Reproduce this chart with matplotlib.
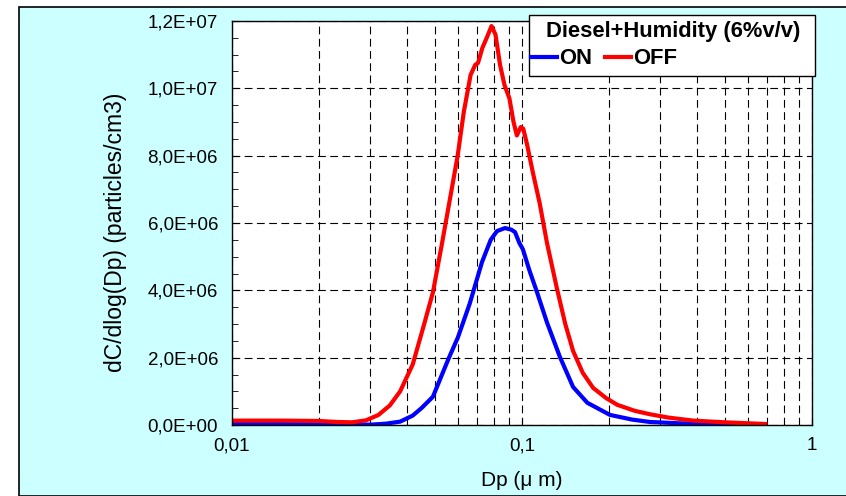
import matplotlib.pyplot as plt
from matplotlib.patches import Rectangle
from matplotlib.ticker import FixedLocator, FuncFormatter, MultipleLocator, LogLocator
import numpy as np

plt.rcParams['font.family'] = ['Liberation Sans', 'DejaVu Sans']

# OFF (red) size distribution, values in 1e6 particles/cm3
dp_off = [0.0100, 0.0150, 0.0200, 0.0230, 0.0260, 0.0290, 0.0320, 0.0350, 0.0380,
          0.0420, 0.0460, 0.0493, 0.0530, 0.0564, 0.0600, 0.0630, 0.0665, 0.0690,
          0.0705, 0.0730, 0.0760, 0.0785, 0.0810, 0.0840, 0.0870, 0.0905, 0.0935,
          0.0960, 0.0990, 0.1010, 0.1040, 0.1090, 0.1150, 0.1220, 0.1320, 0.1410,
          0.1500, 0.1620, 0.1760, 0.1950, 0.2130, 0.2450, 0.2760, 0.3200, 0.3900,
          0.5000, 0.6900]
c_off = [0.13, 0.13, 0.12, 0.09, 0.08, 0.14, 0.30, 0.58, 1.0,
         1.8, 3.0, 3.94, 5.4, 6.7, 8.0, 9.3, 10.4, 10.7,
         10.75, 11.2, 11.55, 11.85, 11.6, 10.7, 10.1, 9.7, 9.0,
         8.6, 8.85, 8.8, 8.35, 7.5, 6.6, 5.4, 4.05, 3.0,
         2.2, 1.55, 1.1, 0.8, 0.6, 0.42, 0.32, 0.22, 0.13,
         0.08, 0.03]

# ON (blue)
dp_on = [0.0100, 0.0200, 0.0250, 0.0300, 0.0340, 0.0380, 0.0420, 0.0450, 0.0493,
         0.0530, 0.0560, 0.0601, 0.0660, 0.0728, 0.0780, 0.0820, 0.0874, 0.0920,
         0.0946, 0.0980, 0.1007, 0.1060, 0.1127, 0.1220, 0.1350, 0.1500, 0.1680,
         0.2010, 0.2400, 0.2760, 0.3500, 0.5000, 0.6900]
c_on = [0.05, 0.05, 0.02, 0.01, 0.04, 0.10, 0.28, 0.50, 0.84,
        1.5, 2.0, 2.6, 3.6, 4.84, 5.5, 5.76, 5.85, 5.8,
        5.73, 5.4, 5.22, 4.6, 3.94, 3.04, 2.03, 1.13, 0.66,
        0.30, 0.16, 0.09, 0.05, 0.03, 0.02]

W, H = 846, 496
fig = plt.figure(figsize=(W/100, H/100), dpi=100, facecolor='white')
bg = Rectangle((19/W, 0), 1, (H-7)/H, transform=fig.transFigure,
               facecolor='#CCFFFF', edgecolor='black', linewidth=1.2, zorder=-10)
fig.add_artist(bg)

ax = fig.add_axes([232/W, (H-425)/H, 580/W, 404/H])
ax.set_facecolor('white')

l_on, = ax.plot(dp_on, np.array(c_on) * 1e6, color='#0000FF', lw=3, label='ON')
l_off, = ax.plot(dp_off, np.array(c_off) * 1e6, color='#FF0000', lw=3, label='OFF')

ax.set_xscale('log')
ax.set_xlim(0.01, 1)
ax.set_ylim(0, 1.2e7)

ax.xaxis.set_major_locator(FixedLocator([0.01, 0.1, 1]))
ax.xaxis.set_minor_locator(LogLocator(base=10, subs=np.arange(2, 10)))
ax.xaxis.set_major_formatter(FuncFormatter(lambda v, p: ('%g' % v).replace('.', ',')))
ax.xaxis.set_minor_formatter(FuncFormatter(lambda v, p: ''))

ax.yaxis.set_major_locator(MultipleLocator(2e6))
ax.yaxis.set_minor_locator(MultipleLocator(5e5))
ax.yaxis.set_major_formatter(FuncFormatter(lambda v, p: ('%.1E' % v).replace('.', ',')))

ax.tick_params(which='both', direction='in', labelsize=13.5, color='black')
ax.tick_params(which='major', length=5)
ax.tick_params(which='minor', length=4)
ax.tick_params(axis='x', pad=9)
ax.tick_params(axis='y', pad=10)

ax.grid(True, which='both', axis='x', color='black', linestyle=(0, (7, 4)), lw=0.8)
ax.grid(True, which='major', axis='y', color='black', linestyle=(0, (7, 4)), lw=0.8)

for s in ax.spines.values():
    s.set_linewidth(1.0)

ax.set_xlabel('Dp (\u03bc m)', fontsize=15)
ax.set_ylabel('dC/dlog(Dp) (particles/cm3)', fontsize=16.5)
ax.xaxis.set_label_coords(0.5, (425-471)/404)
ax.yaxis.set_label_coords((127-232)/580, (425-232)/404)

# legend: framed box with centred title, entries on one row below
fig.add_artist(Rectangle((529/W, (H-76)/H), 286/W, 61/H, transform=fig.transFigure,
                         facecolor='white', edgecolor='black', linewidth=1.0, zorder=5))
fig.text(673/W, (H-31)/H, 'Diesel+Humidity (6%v/v)', fontsize=15.8, fontweight='bold',
         ha='center', va='center', zorder=6)
leg = fig.legend(handles=[l_on, l_off], loc='center left', bbox_to_anchor=(531/W, (H-59)/H),
                 ncol=2, frameon=False, borderpad=0, borderaxespad=0,
                 handlelength=1.2, handletextpad=0.1, columnspacing=0.55,
                 prop={'weight': 'bold', 'size': 15.8})
leg.set_zorder(7)

plt.savefig('out.png', dpi=100, facecolor=fig.get_facecolor())
